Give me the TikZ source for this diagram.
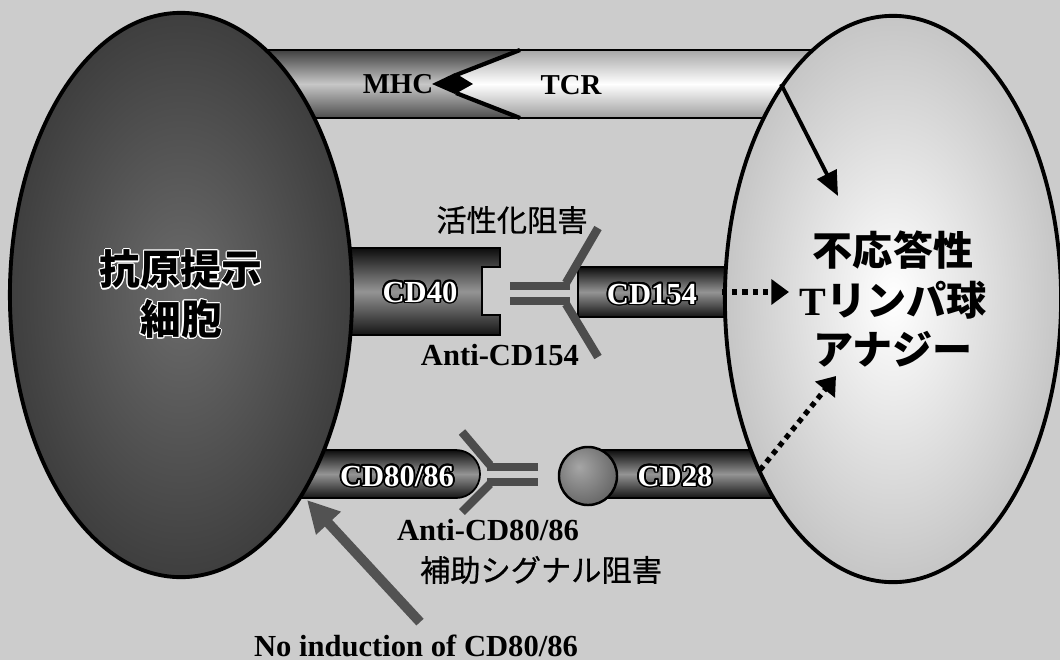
\documentclass[tikz,border=0pt]{standalone}
\usepackage{fontspec}
\setmainfont{Liberation Serif}
\newfontfamily\jp{Noto Sans CJK JP}
\newfontfamily\jpmid{Noto Sans CJK JP}[FakeBold=0.6]
\usepackage{contour}
\contourlength{0.5pt}
\usetikzlibrary{shapes, arrows.meta, positioning}

\pgfdeclareradialshading{apcshade}{\pgfpoint{0bp}{0bp}}{color(0bp)=(black!58); color(50bp)=(black!93); color(72bp)=(black!93)}
\pgfdeclareradialshading{tcellshade}{\pgfpoint{0bp}{0bp}}{color(0bp)=(white); color(50bp)=(black!45); color(72bp)=(black!45)}
\pgfdeclareradialshading{ballshade}{\pgfpoint{-8bp}{8bp}}{color(0bp)=(black!35); color(50bp)=(black!75); color(72bp)=(black!75)}

\tikzset{
  paper/.style={fill=black!20},
  cell/.style={ellipse, draw, line width=1.1pt, shade, inner sep=0pt},
  bar/.style={draw=black, line width=0.5pt, top color=black!95, bottom color=black!92, middle color=black!42},
  ab/.style={draw=black!70, line width=2.4pt},
  mol/.style={inner sep=1pt, font=\bfseries\fontsize{8.7}{10}\selectfont},
  molw/.style={mol, text=white},
  jptext/.style={inner sep=1pt, font=\jpmid\fontsize{8.6}{10}\selectfont},
  dotarrow/.style={line width=1.5pt, dash pattern=on 1.5pt off 1.4pt, -{Triangle[length=5pt,width=7pt]}},
  inducearrow/.style={draw=black!68, line width=2.8pt, -{Triangle[length=9pt,width=9pt]}}
}

\begin{document}
\begin{tikzpicture}[x=0.01cm, y=-0.01cm, thick]
\useasboundingbox (0,0) rectangle (1060,660);
\fill[paper] (0,0) rectangle (1060,660);

% MHC - TCR
\shade[top color=black!75, bottom color=black!70, middle color=black!22] (260,50) rectangle (830,118);
\shade[top color=black!35, bottom color=black!38, middle color=white] (520,50) -- (456,75) -- (456,93) -- (520,118) -- (830,118) -- (830,50) -- cycle;
\draw[line width=1.2pt] (520,50) -- (456,75) (456,93) -- (520,118);
\draw[line width=0.7pt] (260,50) -- (830,50) (260,118) -- (830,118);
\fill (432,84) -- (455,73) -- (473,84) -- (455,94) -- cycle;
\node[mol, font=\bfseries\fontsize{8.2}{10}\selectfont] (mhc) at (398,84) {MHC};
\node[mol, font=\bfseries\fontsize{8.2}{10}\selectfont] (tcr) at (571,85) {TCR};

% CD40 - CD154
\path[bar] (330,248) -- (500,248) -- (500,267) -- (482,267) -- (482,315) -- (500,315) -- (500,335) -- (330,335) -- cycle;
\path[bar] (578,267) rectangle (745,317);
\draw[ab] (510,286) -- (570,286);
\draw[ab] (510,301) -- (570,301);
\draw[ab] (566,283) -- (598,228);
\draw[ab] (566,304) -- (598,357);

% CD80/86 - CD28
\path[bar] (290,450) -- (456,450) arc[start angle=90, end angle=-90, radius=0.24cm] -- (290,498) -- cycle;
\draw[ab] (487,467) -- (538,467);
\draw[ab] (487,482) -- (538,482);
\draw[ab] (490,465) -- (462,432);
\draw[ab] (490,484) -- (462,512);
\path[bar] (588,450) rectangle (780,498);
\path[draw, line width=0.7pt, shading=ballshade, shade] (588,476) circle[radius=0.29cm];

% cells
\node[cell, shading=apcshade,
    minimum width=3.42cm,
    minimum height=5.64cm,
    align=center, font=\jp\bfseries\fontsize{11.6}{14.2}\selectfont
] (apc) at (181,295) {\contourlength{0.3pt}\contour{white}{抗原提示}\\\contourlength{0.3pt}\contour{white}{細胞}};
\node[cell, shading=tcellshade,
    minimum width=3.36cm,
    minimum height=5.66cm,
    align=center, font=\jp\bfseries\fontsize{11.4}{14.1}\selectfont
] (tcell) at (893,299) {不応答性\\{\rmfamily T}リンパ球\\アナジー};

% labels
\node[molw] (cd40) at (420,293) {\contour{black}{CD40}};
\node[molw] (cd154) at (652,295) {\contour{black}{CD154}};
\node[molw] (cd8086) at (397,477) {\contour{black}{CD80/86}};
\node[molw] (cd28) at (675,477) {\contour{black}{CD28}};
\node[mol] (anti154) at (500,355) {Anti-CD154};
\node[mol] (anti8086) at (488,530) {Anti-CD80/86};
\node[jptext] (blockact) at (512,220) {活性化阻害};
\node[jptext] (blockcostim) at (541,570) {補助シグナル阻害};
\node[mol] (noind) at (416,646) {No induction of CD80/86};

% signals
\coordinate (tcrfoot) at (781,84);
\coordinate (tcrtip) at (838,196);
\coordinate (cd154end) at (722,292);
\coordinate (cd154tip) at (789,292);
\coordinate (cd28end) at (760,470);
\coordinate (cd28tip) at (836,376);
\coordinate (apcfoot) at (307,500);
\draw[-{Triangle[length=7pt,width=6pt]}, line width=1.1pt] (tcrfoot) -- (tcrtip);
\draw[dotarrow] (cd154end) -- (cd154tip);
\draw[dotarrow] (cd28end) -- (cd28tip);
\draw[inducearrow] ([xshift=0.04cm, yshift=0.08cm]noind.north) -- (apcfoot);

\end{tikzpicture}
\end{document}
